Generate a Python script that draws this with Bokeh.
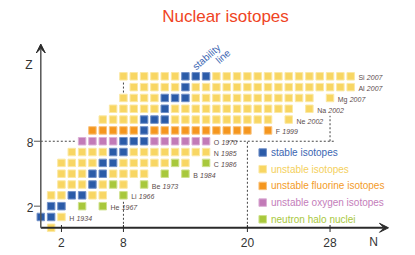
from bokeh.plotting import figure
from bokeh.models import ColumnDataSource, Range1d, Arrow, VeeHead
from bokeh.embed import file_html
from bokeh.resources import INLINE
from bokeh.core.properties import value

# ---------------- data ----------------
# one string per proton number Z; the character index is the neutron number N
# s = stable, u = unstable, f = unstable fluorine, o = unstable oxygen,
# h = neutron halo nucleus, . = no isotope shown
row_Z0 = ".u"
row_Z1 = "ssu"
row_Z2 = ".ss.h.h"
row_Z3 = ".uussuu.h"
row_Z4 = "..uuusuhu.h"
row_Z5 = "..uuussuuuu.h.h"
row_Z6 = ("..uuuuss" "uuuuu" "hu.h")
row_Z7 = ("...uuuuss" "uuuuuuuu")
row_Z8 = ("....oooosss" "oooooo")
row_Z9 = (".....fffffs" "ffffffffff" ".f")
row_Z10 = ("......uuuusss" "uuuuuuuuuu" ".u")
row_Z11 = (".......uuuuus" "uuuuuuuuuuuu" ".u")
row_Z12 = ("........uuuusss" "uuuuuuuuuuuu" ".u")
row_Z13 = (".........uuuuus" "uuuuuuuuuuuuuuuu")
row_Z14 = ("........uuuuuusss" "uuuuuuuuuuuuuu")
rows = [row_Z0, row_Z1, row_Z2, row_Z3, row_Z4, row_Z5, row_Z6, row_Z7,
        row_Z8, row_Z9, row_Z10, row_Z11, row_Z12, row_Z13, row_Z14]

symbols = ["H", "He", "Li", "Be", "B", "C", "N", "O", "F", "Ne", "Na", "Mg", "Al", "Si"]
years = ["1934", "1967", "1966", "1973", "1984", "1986", "1985", "1970",
         "1999", "2002", "2002", "2007", "2007", "2007"]

x_ticks = [2, 8, 20, 28]
y_ticks = [2, 8]

legend_keys = ["s", "u", "f", "o", "h"]
legend_labels = ["stable isotopes", "unstable isotopes", "unstable fluorine isotopes",
                 "unstable oxygen isotopes", "neutron halo nuclei"]

title_text = "Nuclear isotopes"

# ---------------- styles ----------------
FILL = {"s": "#2b5ba8", "u": "#f8d663", "f": "#f5961e", "o": "#c27ab7", "h": "#a8c83c"}
EDGE = {"s": "#7391c8", "u": "#fbe8a4", "f": "#f9c27c", "o": "#dcb0d6", "h": "#cfe18d"}
TEXT = {"s": "#3b66b2", "u": "#f4d05c", "f": "#f39b28", "o": "#c47dba", "h": "#a9c83e"}
FONT = value("Liberation Sans")
LABEL_COLOR = "#5c4c4c"
AXIS_COLOR = "#2a2a2a"

# ---------------- geometry (page pixels -> data) ----------------
W, H = 415, 255
PX_N, PX_Z = 10.33, 10.82
N0_X = 40.3     # canvas x of N = 0
Z0_Y = 227.3    # canvas y of Z = 0


def nx(px):
    return (px - N0_X) / PX_N


def zy(py):
    return (Z0_Y - py) / PX_Z


p = figure(width=W, height=H, title=None, toolbar_location=None, output_backend="svg",
           x_range=Range1d(-N0_X / PX_N, (W - N0_X) / PX_N),
           y_range=Range1d(-(H - Z0_Y) / PX_Z, Z0_Y / PX_Z),
           x_axis_location=None, y_axis_location=None, min_border=0)
p.grid.visible = False
p.outline_line_color = None
p.background_fill_color = "white"

# ---------------- dotted guide lines ----------------
dots = dict(line_color="#444444", line_width=1, line_dash="2 2")
p.segment(x0=[0, 18.1, 8, 8, 20, 28], y0=[8, 8, 0, 12.5, 0, 8],
          x1=[3.4, 28.5, 8, 8, 20, 28], y1=[8, 8, 2.5, 13.5, 8, 10.35], **dots)

# ---------------- axes ----------------
p.add_layout(Arrow(end=VeeHead(size=9, fill_color=AXIS_COLOR, line_color=AXIS_COLOR, line_width=1),
                   x_start=0, y_start=0, x_end=nx(388), y_end=0,
                   line_color=AXIS_COLOR, line_width=2))
p.add_layout(Arrow(end=VeeHead(size=9, fill_color=AXIS_COLOR, line_color=AXIS_COLOR, line_width=1),
                   x_start=0, y_start=0, x_end=0, y_end=zy(43.5),
                   line_color="#555555", line_width=1.5))
p.segment(x0=x_ticks, y0=[zy(231.5)] * len(x_ticks), x1=x_ticks, y1=[zy(224.5)] * len(x_ticks),
          line_color=AXIS_COLOR, line_width=1)
p.text(x=x_ticks, y=[zy(242)] * len(x_ticks), text=[str(t) for t in x_ticks],
       text_font=FONT, text_font_size="12px", text_color="#333333",
       text_align="center", text_baseline="middle")
p.segment(x0=[nx(33.5)] * len(y_ticks), y0=y_ticks, x1=[0] * len(y_ticks), y1=y_ticks,
          line_color="#555555", line_width=1)
p.text(x=[nx(29.5)] * len(y_ticks), y=y_ticks, text=[str(t) for t in y_ticks],
       text_font=FONT, text_font_size="12px", text_color="#333333",
       text_align="center", text_baseline="middle", y_offset=1)
p.text(x=[nx(28.5), nx(373)], y=[zy(64), zy(241)], text=["Z", "N"],
       text_font=FONT, text_font_size="12px", text_color="#333333",
       text_align="center", text_baseline="middle")

# ---------------- isotope cells ----------------
cell_N, cell_Z, cell_fill, cell_edge = [], [], [], []
for Z, row in enumerate(rows):
    for N, ch in enumerate(row):
        if ch != ".":
            cell_N.append(N)
            cell_Z.append(Z)
            cell_fill.append(FILL[ch])
            cell_edge.append(EDGE[ch])
cells = ColumnDataSource(dict(N=cell_N, Z=cell_Z, fill=cell_fill, edge=cell_edge))
p.scatter(x="N", y="Z", source=cells, marker="square", size=7.5,
          fill_color="fill", line_color="edge", line_width=1)

# ---------------- element labels ----------------
CW = {"H": 722, "e": 556, "L": 556, "i": 222, "B": 667, "C": 722, "N": 722, "O": 778,
      "F": 611, "a": 556, "M": 833, "g": 556, "A": 667, "l": 222, "S": 667}
lab_x, lab_y, yr_off = [], [], []
for Z in range(1, len(rows)):
    lab_x.append(len(rows[Z]) - 1 + 0.75)
    lab_y.append(Z)
    yr_off.append(sum(CW[c] for c in symbols[Z - 1]) / 1000 * 7 + 2.2)
labs = ColumnDataSource(dict(x=lab_x, y=lab_y, sym=symbols, yr=years, off=yr_off))
p.text(x="x", y="y", text="sym", source=labs, text_font=FONT, text_font_size="7px",
       text_color=LABEL_COLOR, text_baseline="middle", text_align="left", y_offset=1.5)
p.text(x="x", y="y", text="yr", source=labs, x_offset="off", text_font=FONT,
       text_font_size="7px", text_font_style="italic", text_color=LABEL_COLOR,
       text_baseline="middle", text_align="left", y_offset=1.5)

# ---------------- stability line annotation ----------------
p.text(x=[nx(206), nx(222.5)], y=[zy(56.5), zy(56)], text=["stability", "line"],
       angle=0.72, text_font=FONT, text_font_size="10px", text_color="#3b66b2",
       text_align="center", text_baseline="middle")

# ---------------- legend ----------------
leg_y = [zy(152 + 16.7 * i) for i in range(len(legend_keys))]
p.scatter(x=[nx(262.2)] * len(legend_keys), y=leg_y, marker="square", size=7.5,
          fill_color=[FILL[k] for k in legend_keys], line_color=[EDGE[k] for k in legend_keys],
          line_width=1)
p.text(x=[nx(270.5)] * len(legend_keys), y=leg_y, text=legend_labels,
       text_color=[TEXT[k] for k in legend_keys], text_font=FONT, text_font_size="10px",
       text_align="left", text_baseline="middle")

# ---------------- title ----------------
p.text(x=[nx(225)], y=[zy(15.5)], text=[title_text], text_font=FONT,
       text_font_size="17px", text_color="#ef4424", text_align="center",
       text_baseline="middle")

open("out.html", "w").write(file_html(p, INLINE))
